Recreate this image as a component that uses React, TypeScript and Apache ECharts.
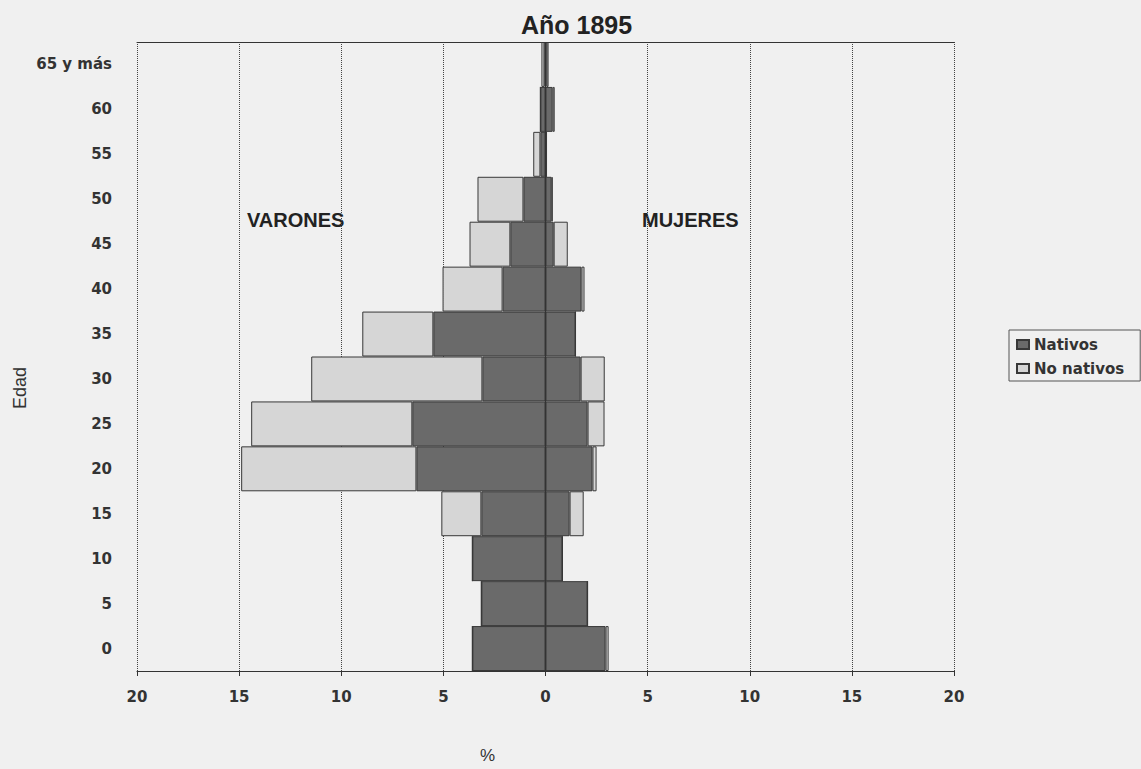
import React, { useEffect, useRef } from "react";
import * as echarts from "echarts";

const categories = ["0", "5", "10", "15", "20", "25", "30", "35", "40", "45", "50", "55", "60", "65 y más"];
// Varones (shown to the left of 0)
const varonesNativos = [3.58, 3.14, 3.58, 3.14, 6.32, 6.52, 3.09, 5.49, 2.1, 1.72, 1.08, 0.25, 0.25, 0.05];
const varonesNoNativos = [0, 0, 0, 1.96, 8.58, 7.89, 8.38, 3.48, 2.94, 2.0, 2.25, 0.35, 0, 0.15];
// Mujeres (shown to the right of 0)
const mujeresNativos = [2.94, 2.06, 0.83, 1.18, 2.3, 2.06, 1.72, 1.47, 1.76, 0.4, 0.3, 0.05, 0.35, 0.05];
const mujeresNoNativos = [0.15, 0, 0, 0.69, 0.2, 0.83, 1.18, 0, 0.15, 0.69, 0.05, 0, 0.1, 0.1];
const xTicks = { min: -20, max: 20, interval: 5 };

const DARK = "#6a6a6a";
const LIGHT = "#d6d6d6";
const BORDER = "#383838";

export default function App() {
  const ref = useRef<HTMLDivElement>(null);
  useEffect(() => {
    if (!ref.current) return;
    const chart = echarts.init(ref.current, undefined, { renderer: "svg" });
    const tickFont = { fontFamily: "DejaVu Sans", fontWeight: "bold" as const, fontSize: 15, color: "#333" };
    const barBase = (name: string, data: number[], color: string) => ({
      name,
      type: "bar" as const,
      stack: "pyr",
      data,
      barCategoryGap: "0%",
      itemStyle: { color, borderColor: BORDER, borderWidth: 1 },
      emphasis: { disabled: true },
    });
    const s1: any = barBase("Nativos", varonesNativos.map((v) => -v), DARK);
    s1.markLine = {
      silent: true,
      symbol: "none",
      label: { show: false },
      lineStyle: { color: "#333", type: "solid", width: 1 },
      data: [{ xAxis: 0 }],
    };
    chart.setOption({
      animation: false,
      backgroundColor: "#f0f0f0",
      title: {
        text: "Año 1895",
        left: 516,
        top: 7,
        textStyle: { fontFamily: "Liberation Sans", fontWeight: "bold", fontSize: 25, color: "#222" },
      },
      legend: {
        data: ["Nativos", "No nativos"],
        orient: "vertical",
        left: 1009,
        top: 330,
        padding: [7, 16, 5, 7],
        itemGap: 9,
        itemWidth: 12,
        itemHeight: 9,
        icon: "rect",
        borderColor: "#555",
        borderWidth: 1,
        textStyle: { fontFamily: "DejaVu Sans", fontWeight: "bold", fontSize: 15, color: "#333" },
      },
      grid: { left: 137, right: 187, top: 42, bottom: 89, containLabel: false },
      xAxis: [
        {
          type: "value",
          min: xTicks.min,
          max: xTicks.max,
          interval: xTicks.interval,
          position: "bottom",
          name: "%",
          nameLocation: "middle",
          nameGap: 76,
          nameTextStyle: { fontFamily: "Liberation Sans", fontSize: 17, color: "#333", padding: [0, 116, 0, 0] },
          axisLine: { show: true, onZero: false, lineStyle: { color: "#333", width: 1 } },
          axisTick: { show: true, length: 5, lineStyle: { color: "#333" } },
          axisLabel: { ...tickFont, margin: 18, formatter: (v: number) => String(Math.abs(v)) },
          splitLine: { show: true, lineStyle: { color: "#444", type: "dotted", width: 1 } },
        },
        {
          type: "value",
          min: xTicks.min,
          max: xTicks.max,
          interval: xTicks.interval,
          position: "top",
          axisLine: { show: true, onZero: false, lineStyle: { color: "#333", width: 1 } },
          axisTick: { show: false },
          axisLabel: { show: false },
          splitLine: { show: false },
        },
      ],
      yAxis: {
        type: "category",
        data: categories,
        axisLine: { show: false },
        axisTick: { show: false },
        axisLabel: { ...tickFont, margin: 25 },
        splitLine: { show: false },
      },
      graphic: [
        {
          type: "text",
          left: 247,
          top: 210,
          style: { text: "VARONES", fontFamily: "Liberation Sans", fontWeight: "bold", fontSize: 20, fill: "#222" },
        },
        {
          type: "text",
          left: 642,
          top: 210,
          style: { text: "MUJERES", fontFamily: "Liberation Sans", fontWeight: "bold", fontSize: 20, fill: "#222" },
        },
        {
          type: "text",
          x: 20,
          y: 388,
          rotation: Math.PI / 2,
          style: {
            text: "Edad",
            fontFamily: "Liberation Sans",
            fontSize: 18,
            fill: "#333",
            align: "center",
            verticalAlign: "middle",
          },
        },
      ],
      series: [
        s1,
        barBase("No nativos", varonesNoNativos.map((v) => -v), LIGHT),
        barBase("Nativos", mujeresNativos, DARK),
        barBase("No nativos", mujeresNoNativos, LIGHT),
      ],
    });
    return () => chart.dispose();
  }, []);
  return (
    <div
      ref={ref}
      style={{ position: "absolute", left: 0, top: 0, width: 1141, height: 769, background: "#f0f0f0" }}
    />
  );
}
